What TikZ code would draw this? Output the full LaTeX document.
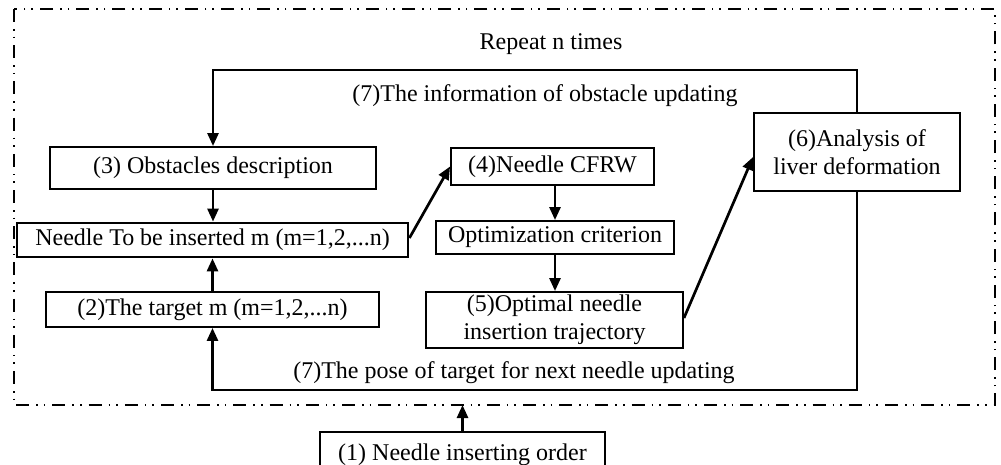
\documentclass[tikz,border=0pt]{standalone}
\usepackage{fontspec}
\setmainfont{Liberation Serif}
\usetikzlibrary{arrows.meta,calc}
\begin{document}
\begin{tikzpicture}[x=0.5pt,y=-0.5pt,
  every node/.style={font=\fontsize{12pt}{14pt}\selectfont, inner sep=0pt},
  box/.style={draw, line width=0.95pt, align=center},
  thickbox/.style={draw, line width=1.4pt, align=center},
  arr/.style={line width=1.35pt, -{Triangle[length=6.5pt,width=5.5pt]}},
  frame/.style={line width=0.7pt, dash pattern=on 6.5pt off 3.5pt on 0.8pt off 3pt on 0.8pt off 3.5pt}
]
\useasboundingbox (0,0) rectangle (1001,465);
% frame
\draw[frame] (14,9) rectangle (995,405);
% boxes
\node[box, minimum width=163pt, minimum height=21pt] (B3) at (213,168) {(3) Obstacles description};
\node[thickbox, minimum width=195.5pt, minimum height=17pt] (Bn) at (212.5,240) {Needle To be inserted m (m=1,2,...n)};
\node[box, minimum width=166.5pt, minimum height=17.5pt] (B2) at (212.5,309.5) {(2)The target m (m=1,2,...n)};
\node[box, minimum width=142.5pt, minimum height=23pt] (B1) at (462.5,455) {(1) Needle inserting order};
\node[box, minimum width=101.5pt, minimum height=18.5pt] (B4) at (552.5,166.5) {(4)Needle CFRW};
\node[box, minimum width=119pt, minimum height=16.5pt] (Bo) at (555,237.5) {Optimization criterion};
\node[box, minimum width=128.5pt, minimum height=28pt] (B5) at (554.5,320) {(5)Optimal needle\\insertion trajectory};
\node[box, minimum width=103pt, minimum height=39pt] (B6) at (857,152) {(6)Analysis of\\liver deformation};
% labels
\node (Lrep) at (551,44) {Repeat n times};
\node (Linfo) at (545,96) {(7)The information of obstacle updating};
\node (Lpose) at (514,373) {(7)The pose of target for next needle updating};
% coordinates
\coordinate (c1) at (857,70);
\coordinate (c2) at (213,70);
\coordinate (c3) at (857,390);
\coordinate (c4) at (212.5,390);
\coordinate (fb) at (462.5,405);
% connectors
\draw[arr] (B6.north) -- (c1) -- (c2) -- (B3.north);
\draw[arr] (B6.south) -- (c3) -- (c4) -- (B2.south);
\draw[arr] (B3.south) -- (B3.south |- Bn.north);
\draw[arr] (B2.north) -- (Bn.south);
\draw[arr] (B1.north) -- (fb);
\draw[arr] ($(Bn.east)+(0,-2)$) -- (B4.west);
\draw[arr] (Bo.north |- B4.south) -- (Bo.north);
\draw[arr] (Bo.south) -- (Bo.south |- B5.north);
\draw[arr] ($(B5.east)+(0,-2)$) -- ($(B6.west)+(0,5)$);
\end{tikzpicture}
\end{document}
